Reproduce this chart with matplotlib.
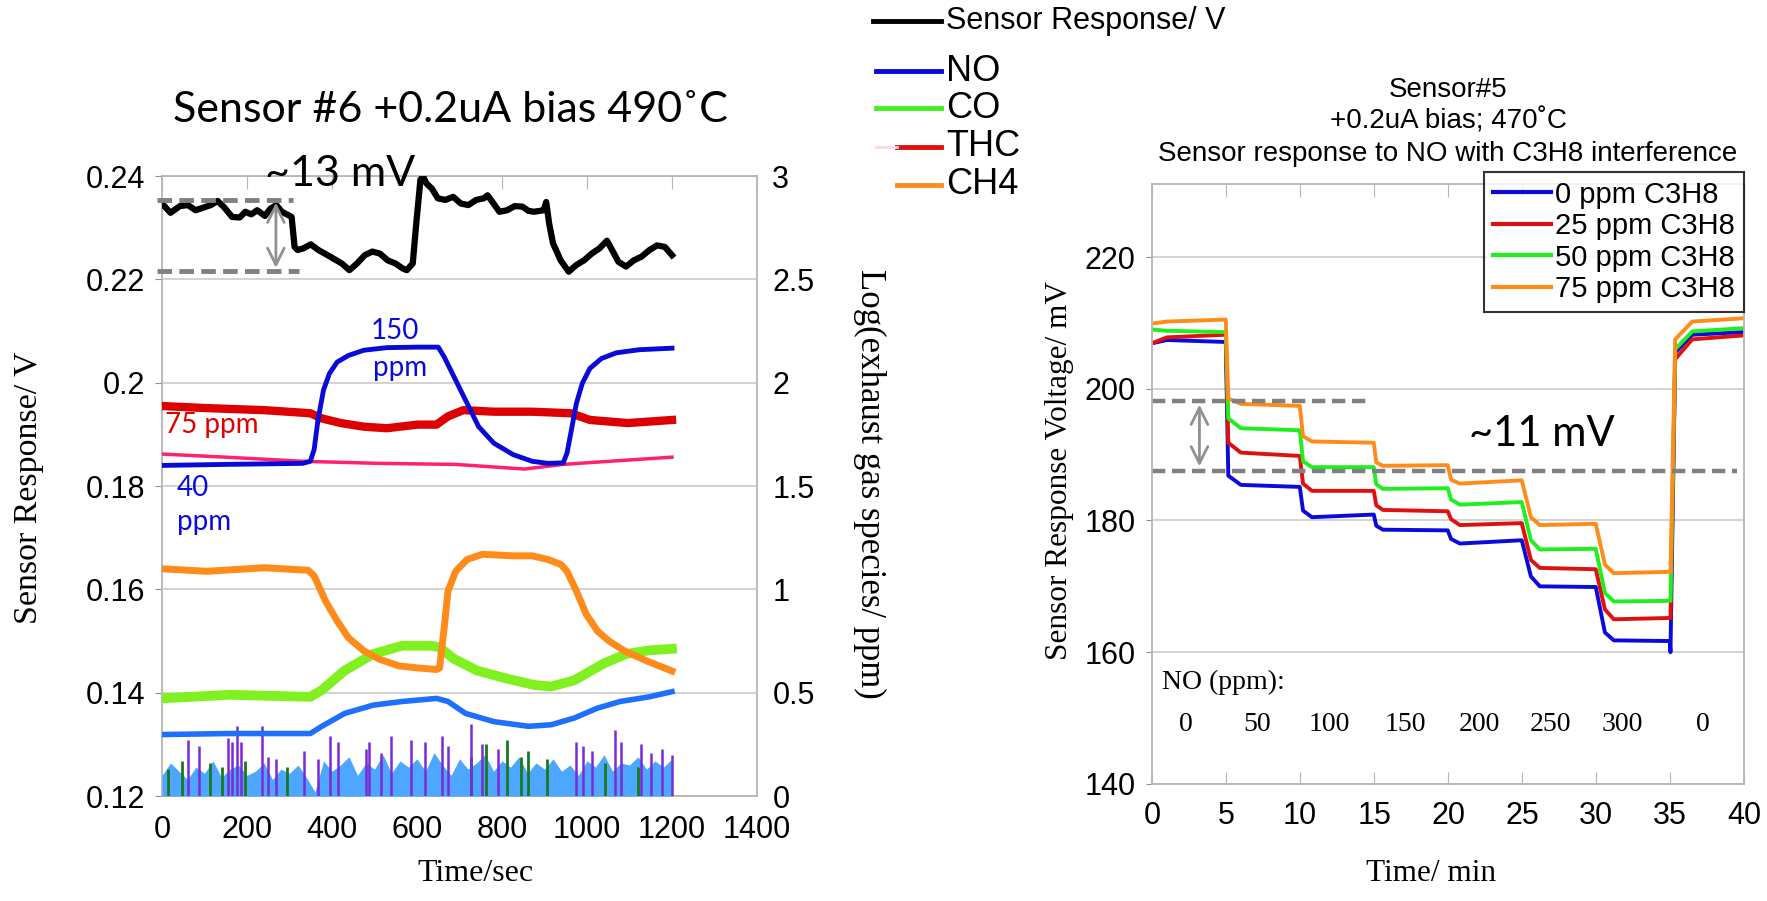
import numpy as np
import matplotlib
matplotlib.use("Agg")
import matplotlib.pyplot as plt
from matplotlib.lines import Line2D

ARIAL = ['Liberation Sans', 'DejaVu Sans']
SERIF = ['Liberation Serif', 'DejaVu Serif']
CAL = ['Lato', 'DejaVu Sans']

# ---------------- left panel: sensor #6 (time in s) ----------------
black_t = [0, 20, 42, 61, 79, 97, 115, 131, 147, 165, 183, 196, 210, 224, 242, 255, 269, 282,
           296, 305, 312, 319, 332, 350, 368, 396, 423, 441, 459, 477, 495, 513, 531, 549,
           567, 576, 590, 599, 608, 614, 622, 635, 649, 667, 685, 703, 721, 739, 757, 766,
           780, 794, 812, 830, 848, 862, 875, 898, 904, 911, 920, 938, 957, 975, 993, 1011,
           1029, 1047, 1061, 1074, 1092, 1110, 1128, 1147, 1165, 1183, 1200]
black_v = [0.2347, 0.2329, 0.2342, 0.2344, 0.2334, 0.2339, 0.2344, 0.2352, 0.2339, 0.2321,
           0.2320, 0.2331, 0.2326, 0.2334, 0.2323, 0.2337, 0.2344, 0.2331, 0.2325, 0.2321,
           0.2263, 0.2257, 0.2260, 0.2268, 0.2257, 0.2244, 0.2231, 0.2218, 0.2231, 0.2247,
           0.2254, 0.2250, 0.2237, 0.2231, 0.2221, 0.2218, 0.2231, 0.2315, 0.2392, 0.2400,
           0.2386, 0.2376, 0.2357, 0.2354, 0.2360, 0.2347, 0.2344, 0.2354, 0.2357, 0.2363,
           0.2347, 0.2331, 0.2334, 0.2342, 0.2341, 0.2333, 0.2331, 0.2334, 0.2350, 0.2308,
           0.2270, 0.2237, 0.2215, 0.2228, 0.2237, 0.2250, 0.2260, 0.2275, 0.2254, 0.2234,
           0.2225, 0.2237, 0.2244, 0.2257, 0.2266, 0.2263, 0.2247]

no_t = [0, 150, 331, 349, 358, 367, 380, 394, 412, 439, 475, 529, 601, 650, 664, 691, 718,
        745, 781, 826, 871, 908, 944, 953, 962, 975, 989, 1007, 1034, 1069, 1123, 1200]
no_v = [0.1840, 0.1842, 0.1844, 0.1848, 0.1871, 0.1928, 0.1986, 0.2018, 0.2040, 0.2053,
        0.2063, 0.2068, 0.2069, 0.2069, 0.2050, 0.2005, 0.1960, 0.1915, 0.1883, 0.1861,
        0.1848, 0.1844, 0.1845, 0.1864, 0.1903, 0.1960, 0.1999, 0.2028, 0.2047, 0.2058,
        0.2064, 0.2067]

thc_t = [0, 105, 241, 349, 376, 421, 475, 529, 601, 646, 673, 709, 781, 871, 962, 1007, 1096, 1200]
thc_v = [0.1955, 0.1951, 0.1947, 0.1941, 0.1931, 0.1922, 0.1915, 0.1912, 0.1919, 0.1919,
         0.1935, 0.1947, 0.1944, 0.1944, 0.1941, 0.1928, 0.1922, 0.1928]

pink_t = [0, 150, 331, 511, 691, 853, 944, 1052, 1200]
pink_v = [0.1862, 0.1856, 0.1848, 0.1844, 0.1842, 0.1833, 0.1842, 0.1848, 0.1856]

ch4_t = [0, 105, 241, 344, 358, 385, 412, 439, 475, 511, 557, 601, 646, 653, 664, 673, 691,
         718, 754, 826, 871, 908, 939, 953, 975, 998, 1025, 1052, 1088, 1142, 1200]
ch4_v = [0.1640, 0.1635, 0.1642, 0.1637, 0.1626, 0.1577, 0.1539, 0.1506, 0.1481, 0.1465,
         0.1452, 0.1448, 0.1445, 0.1448, 0.1526, 0.1597, 0.1635, 0.1658, 0.1668, 0.1665,
         0.1665, 0.1658, 0.1648, 0.1635, 0.1597, 0.1552, 0.1519, 0.1500, 0.1481, 0.1461, 0.1442]

co_t = [0, 159, 349, 376, 430, 497, 565, 632, 653, 686, 741, 808, 876, 916, 970, 1038, 1092, 1146, 1200]
co_v = [0.1389, 0.1396, 0.1392, 0.1405, 0.1443, 0.1475, 0.1491, 0.1491, 0.1488, 0.1466,
        0.1443, 0.1428, 0.1415, 0.1412, 0.1424, 0.1456, 0.1475, 0.1482, 0.1485]

lblue_t = [0, 159, 349, 376, 430, 497, 565, 646, 673, 714, 781, 862, 916, 970, 1024, 1078, 1146, 1200]
lblue_v = [0.1319, 0.1321, 0.1321, 0.1335, 0.1360, 0.1376, 0.1383, 0.1389, 0.1383, 0.1360,
           0.1344, 0.1335, 0.1338, 0.1351, 0.1370, 0.1383, 0.1392, 0.1402]

# low-level species on the log axis (right scale)
fill_t = list(range(0, 1201, 20))
fill_h = [0.10, 0.16, 0.12, 0.08, 0.14, 0.11, 0.17, 0.09, 0.13, 0.15, 0.10, 0.12, 0.16, 0.08,
          0.13, 0.11, 0.15, 0.09, 0.02, 0.17, 0.12, 0.15, 0.19, 0.10, 0.16, 0.13, 0.20, 0.11,
          0.17, 0.14, 0.18, 0.12, 0.21, 0.15, 0.10, 0.18, 0.13, 0.16, 0.20, 0.12, 0.17, 0.14,
          0.19, 0.11, 0.16, 0.13, 0.18, 0.12, 0.15, 0.10, 0.17, 0.14, 0.20, 0.12, 0.16, 0.15,
          0.19, 0.13, 0.17, 0.14, 0.18]
purple_t = [60, 87, 155, 164, 177, 186, 236, 250, 268, 335, 367, 396, 414, 479, 488, 515, 538,
            587, 619, 659, 673, 727, 754, 791, 973, 991, 1011, 1065, 1079, 1128, 1150, 1177, 1200]
purple_h = [0.27, 0.24, 0.28, 0.26, 0.34, 0.26, 0.34, 0.19, 0.18, 0.22, 0.18, 0.29, 0.26, 0.23,
            0.26, 0.21, 0.29, 0.27, 0.26, 0.29, 0.24, 0.35, 0.25, 0.23, 0.26, 0.24, 0.22, 0.32,
            0.26, 0.25, 0.21, 0.23, 0.20]
dgreen_t = [15, 47, 114, 141, 196, 295, 727, 763, 812, 844, 862, 907, 1042, 1119]
dgreen_h = [0.13, 0.17, 0.16, 0.14, 0.17, 0.14, 0.19, 0.25, 0.27, 0.19, 0.22, 0.18, 0.16, 0.14]

# ---------------- right panel: sensor #5 (time in min) ----------------
seg_t = [0, 5, 10, 15, 20, 25, 30, 35]
knee_dt = [0, 0.15, 0.2, 0.15, 0.2, 0.6, 0.6, 0.35]
level_dt = [1.0, 1.0, 0.8, 0.6, 0.8, 1.2, 1.2, 1.5]
c3h8_labels = ['0 ppm C3H8', '25 ppm C3H8', '50 ppm C3H8', '75 ppm C3H8']
knee = {
    '0 ppm C3H8': [206.9, 186.8, 181.5, 179.2, 177.2, 171.5, 163.0, 205.5],
    '25 ppm C3H8': [206.9, 191.8, 185.6, 182.3, 180.2, 174.0, 166.5, 204.5],
    '50 ppm C3H8': [209.0, 195.5, 189.0, 185.5, 183.2, 177.0, 169.0, 206.0],
    '75 ppm C3H8': [209.9, 198.5, 192.8, 188.8, 186.2, 180.5, 173.3, 207.5],
}
level = {
    '0 ppm C3H8': [207.4, 185.4, 180.5, 178.6, 176.5, 170.0, 161.8, 208.2],
    '25 ppm C3H8': [207.8, 190.3, 184.5, 181.6, 179.3, 172.8, 165.0, 207.5],
    '50 ppm C3H8': [208.8, 194.0, 188.1, 184.8, 182.4, 175.6, 167.7, 208.7],
    '75 ppm C3H8': [210.2, 197.7, 192.0, 188.3, 185.6, 179.3, 172.0, 210.2],
}
seg_end = {
    '0 ppm C3H8': [207.1, 185.1, 180.9, 178.5, 177.0, 169.9, 161.7, 208.6],
    '25 ppm C3H8': [208.2, 189.8, 184.5, 181.4, 179.6, 172.6, 165.2, 208.1],
    '50 ppm C3H8': [208.6, 193.7, 188.1, 184.9, 182.8, 175.7, 167.8, 209.2],
    '75 ppm C3H8': [210.5, 197.4, 191.8, 188.4, 186.1, 179.5, 172.2, 210.7],
}
dip35 = {'0 ppm C3H8': 160.0, '25 ppm C3H8': 165.2, '50 ppm C3H8': 167.8, '75 ppm C3H8': 172.2}
right_colors = ['#0a0adc', '#e01010', '#1ef01e', '#ff8c1a']
no_ppm = ['0', '50', '100', '150', '200', '250', '300', '0']
no_ppm_t = [2.3, 7.1, 12.0, 17.1, 22.1, 26.9, 31.8, 37.2]


def step_trace(name):
    t, v = [], []
    for i in range(len(seg_t)):
        if i == 7:
            t.append(35.03)
            v.append(dip35[name])
        t += [seg_t[i] + knee_dt[i], seg_t[i] + level_dt[i], seg_t[i] + 4.98]
        v += [knee[name][i], level[name][i], seg_end[name][i]]
    return t, v


def on_log(v):
    # left axis volts -> right axis log units (0.12..0.24 maps to 0..3)
    return np.array(v) * 25 - 3


fig = plt.figure(figsize=(17.67, 9.01), dpi=100)

# ---------- left axes ----------
ax = fig.add_axes([162 / 1767, 0.1165, 595 / 1767, 0.688])
ax.set_xlim(0, 1400)
ax.set_ylim(0.12, 0.24)
ax.set_yticks([0.12, 0.14, 0.16, 0.18, 0.20, 0.22, 0.24])
ax.set_yticklabels(['0.12', '0.14', '0.16', '0.18', '0.2', '0.22', '0.24'])
ax.set_xticks(range(0, 1401, 200))
ax.grid(axis='y', color='#cfcfcf', lw=1.3)
ax.set_axisbelow(True)
for s in ax.spines.values():
    s.set_color('#b5b5b5')
    s.set_linewidth(1.3)
ax.tick_params(axis='x', bottom=False, top=True, direction='in', length=9, color='#b5b5b5',
               labelbottom=True, labelsize=22, pad=14)
ax.tick_params(axis='y', direction='out', length=5, color='#909090', labelsize=22, pad=7)
for lab in ax.get_xticklabels() + ax.get_yticklabels():
    lab.set_family(ARIAL)

ax2 = ax.twinx()
ax2.set_ylim(0, 3)
ax2.set_yticks([0, 0.5, 1, 1.5, 2, 2.5, 3])
ax2.set_yticklabels(['0', '0.5', '1', '1.5', '2', '2.5', '3'])
ax2.tick_params(axis='y', length=0, labelsize=22, pad=11)
for lab in ax2.get_yticklabels():
    lab.set_family(ARIAL)
for s in ax2.spines.values():
    s.set_visible(False)

ax2.fill_between(fill_t, 0, fill_h, color='#4da6ff', lw=0, zorder=2)
ax2.vlines(dgreen_t, 0, dgreen_h, color='#1a7a1a', lw=2, zorder=3)
ax2.vlines(purple_t, 0, purple_h, color='#7a2ad8', lw=1.8, zorder=3)

ax2.plot(lblue_t, on_log(lblue_v), color='#1f6fff', lw=4, zorder=4)
ax2.plot(co_t, on_log(co_v), color='#80f020', lw=7, zorder=4)
ax2.plot(ch4_t, on_log(ch4_v), color='#ff8c1a', lw=5, zorder=5)
ax2.plot(pink_t, on_log(pink_v), color='#ff2070', lw=2.5, zorder=4)
ax2.plot(thc_t, on_log(thc_v), color='#dd0000', lw=6, zorder=5)
ax2.plot(no_t, on_log(no_v), color='#0a0ad8', lw=3.5, zorder=6)
ax2.plot(black_t, on_log(black_v), color='black', lw=4.5, zorder=6)

# ~13 mV annotation
ax2.plot([-12, 308], on_log([0.2354, 0.2354]), color='#808080', lw=3.5, ls=(0, (3, 1.5)),
         clip_on=False, zorder=7)
ax2.plot([-12, 322], on_log([0.2217, 0.2217]), color='#808080', lw=3.5, ls=(0, (3, 1.5)),
         clip_on=False, zorder=7)
ax2.annotate('', xy=(268, on_log(0.2354)), xytext=(268, on_log(0.2217)),
             arrowprops=dict(arrowstyle='<->', color='#909090', lw=2, mutation_scale=30), zorder=7)
ax2.text(242, on_log(0.2405), '~13 mV', fontsize=31, family=CAL, ha='left', va='center', zorder=8)
ax2.text(547, on_log(0.2101), '150', fontsize=20, family=CAL, color='#0a0ae0', ha='center', va='center')
ax2.text(560, on_log(0.2028), 'ppm', fontsize=20, family=CAL, color='#0a0ae0', ha='center', va='center')
ax2.text(8, on_log(0.1919), '75 ppm', fontsize=20, family=CAL, color='#e00000', ha='left', va='center')
ax2.text(35, on_log(0.1797), '40', fontsize=20, family=CAL, color='#0a0ae0', ha='left', va='center')
ax2.text(35, on_log(0.1730), 'ppm', fontsize=20, family=CAL, color='#0a0ae0', ha='left', va='center')

fig.text(0.255, 0.878, 'Sensor #6 +0.2uA bias 490˚C', fontsize=31, family=CAL, ha='center', va='center')
fig.text(0.016, 0.459, 'Sensor Response/ V', fontsize=24.5, family=SERIF, rotation=90,
         ha='center', va='center')
fig.text(0.492, 0.463, 'Log(exhaust gas species/ ppm)', fontsize=25, family=SERIF, rotation=270,
         ha='center', va='center')
fig.text(0.269, 0.031, 'Time/sec', fontsize=23, family=SERIF, ha='center', va='center')

# ---------- middle legend ----------
leg_items = [('Sensor Response/ V', 'black', 0.977, 873, 22),
             ('NO', '#0a0adc', 0.921, 876, 26),
             ('CO', '#40f020', 0.880, 876, 26),
             ('THC', '#e01010', 0.837, 897, 26),
             ('CH4', '#ff8c1a', 0.795, 897, 26)]
for name, col, y, x0, fs in leg_items:
    fig.add_artist(Line2D([x0 / 1767, 941 / 1767], [y, y], color=col, lw=3.5))
    fig.text(946 / 1767, y, name, fontsize=fs, family=ARIAL, ha='left', va='center')
fig.add_artist(Line2D([876 / 1767, 897 / 1767], [0.837, 0.837], color='#ffd8e0', lw=2))

# ---------- right axes ----------
bx = fig.add_axes([0.652, 0.1299, 0.335, 0.666])
bx.set_xlim(0, 40)
bx.set_ylim(140, 231.1)
bx.set_xticks(range(0, 41, 5))
bx.set_yticks([140, 160, 180, 200, 220])
bx.grid(axis='y', color='#d0d0d0', lw=1.3)
bx.set_axisbelow(True)
for s in bx.spines.values():
    s.set_color('#b5b5b5')
    s.set_linewidth(1.3)
bx.tick_params(axis='x', bottom=True, top=True, direction='in', length=9, color='#b5b5b5',
               labelsize=22, pad=12)
bx.tick_params(axis='y', direction='out', length=4, color='#909090', labelsize=22, pad=8)
for lab in bx.get_xticklabels() + bx.get_yticklabels():
    lab.set_family(ARIAL)

for name, col in zip(c3h8_labels, right_colors):
    t, v = step_trace(name)
    bx.plot(t, v, color=col, lw=2.8, label=name)

bx.plot([0, 14.6], [198.2, 198.2], color='#808080', lw=3.2, ls=(0, (3, 1.5)))
bx.plot([0, 39.5], [187.5, 187.5], color='#808080', lw=3.2, ls=(0, (3, 1.5)))
bx.annotate('', xy=(3.2, 198.0), xytext=(3.2, 187.8),
            arrowprops=dict(arrowstyle='<->', color='#909090', lw=2, mutation_scale=30))
bx.text(21.4, 193.2, '~11 mV', fontsize=30, family=CAL, ha='left', va='center')
bx.text(0.7, 155.4, 'NO (ppm):', fontsize=20, family=SERIF, ha='left', va='center')
for lab, tx in zip(no_ppm, no_ppm_t):
    bx.text(tx, 149.1, lab, fontsize=20, family=SERIF, ha='center', va='center')

leg = bx.legend(loc='upper right', bbox_to_anchor=(1.0, 1.02), frameon=True, fancybox=False,
                handlelength=2.0, handletextpad=0.15, borderpad=0.3, borderaxespad=0,
                labelspacing=0.12, prop={'family': ARIAL, 'size': 21})
leg.get_frame().set_edgecolor('black')
leg.get_frame().set_linewidth(1.5)
for h in leg.get_lines():
    h.set_linewidth(3)

fig.text(0.8195, 0.900, 'Sensor#5', fontsize=20, family=ARIAL, ha='center', va='center')
fig.text(0.8195, 0.865, '+0.2uA bias; 470˚C', fontsize=20, family=ARIAL, ha='center', va='center')
fig.text(0.8195, 0.829, 'Sensor response to NO with C3H8 interference', fontsize=20, family=ARIAL,
         ha='center', va='center')
fig.text(0.5995, 0.478, 'Sensor Response Voltage/ mV', fontsize=22.5, family=SERIF, rotation=90,
         ha='center', va='center')
fig.text(0.81, 0.031, 'Time/ min', fontsize=22.5, family=SERIF, ha='center', va='center')

fig.savefig('out.png', dpi=100)
